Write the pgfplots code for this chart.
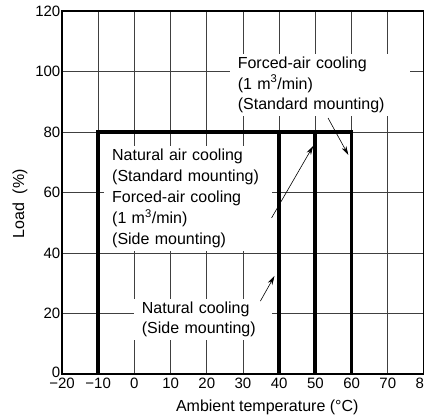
\documentclass[border=0pt]{standalone}
\usepackage{pgfplots}
\pgfplotsset{compat=1.18}
\usepackage{fontspec}
\setmainfont{Liberation Sans}
\usetikzlibrary{arrows.meta}

\begin{document}
\begin{tikzpicture}
\begin{axis}[
  name=ax,
  scale only axis,
  width=362pt, height=363pt,
  xmin=-20, xmax=80, ymin=0, ymax=120,
  xtick={-20,-10,0,10,20,30,40,50,60,70,80},
  xticklabels={−20,−10,0,10,20,30,40,50,60,70,80},
  ytick={0,20,40,60,80,100,120},
  yticklabels={\raisebox{4pt}{0},20,40,60,80,100,120},
  grid=major,
  major grid style={black!75, line width=0.7pt},
  axis line style={black, line width=1.8pt},
  major tick length=0pt,
  tick label style={font=\fontsize{15}{18}\selectfont},
  /pgf/number format/assume math mode=true,
  yticklabel style={inner xsep=1.5pt},
  xticklabel style={inner ysep=4pt},
  clip=false,
]
\addplot[black, line width=3.8pt, line join=miter] coordinates {(-10,0) (-10,80) (60,80) (60,0)};
\addplot[black, line width=3.8pt] coordinates {(40,0) (40,80)};
\addplot[black, line width=3.8pt] coordinates {(50,0) (50,80)};

\node[fill=white, inner xsep=8pt, inner ysep=3pt, anchor=west, align=left, text width=164pt,
  font=\fontsize{16}{20.5}\selectfont] at (axis cs:26.3,95.5)
  {Forced-air cooling\\(1 m\textsuperscript{3}/min)\\(Standard mounting)};
\node[fill=white, inner xsep=8pt, inner ysep=3pt, anchor=west, align=left, text width=152pt,
  font=\fontsize{16}{21}\selectfont] at (axis cs:-8.4,57.9)
  {Natural air cooling\\(Standard mounting)\\Forced-air cooling\\(1 m\textsuperscript{3}/min)\\(Side mounting)};
\node[fill=white, inner xsep=8pt, inner ysep=3pt, anchor=west, align=left, text width=122pt,
  font=\fontsize{16}{20}\selectfont] at (axis cs:-0.2,17.9)
  {Natural cooling\\(Side mounting)};

\draw[-{Stealth[length=9pt,width=5pt]}, line width=0.6pt] (axis cs:53.5,84.6) -- (axis cs:59.1,72.4);
\draw[-{Stealth[length=9pt,width=5pt]}, line width=0.6pt] (axis cs:37.9,51.6) -- (axis cs:49.4,75.4);
\draw[-{Stealth[length=9pt,width=5pt]}, line width=0.6pt] (axis cs:34.8,24.1) -- (axis cs:38.7,32.4);

\node[font=\fontsize{16}{19}\selectfont] at (axis cs:36.7,-10.9) {Ambient temperature (°C)};
\node[font=\fontsize{16}{19}\selectfont, rotate=90] at (axis cs:-31.6,56.2) {Load \ (\%)};
\end{axis}
\pgfresetboundingbox
\path[use as bounding box] ([xshift=-62pt,yshift=-43pt]ax.south west) rectangle ([yshift=11pt]ax.north east);
\end{tikzpicture}
\end{document}
